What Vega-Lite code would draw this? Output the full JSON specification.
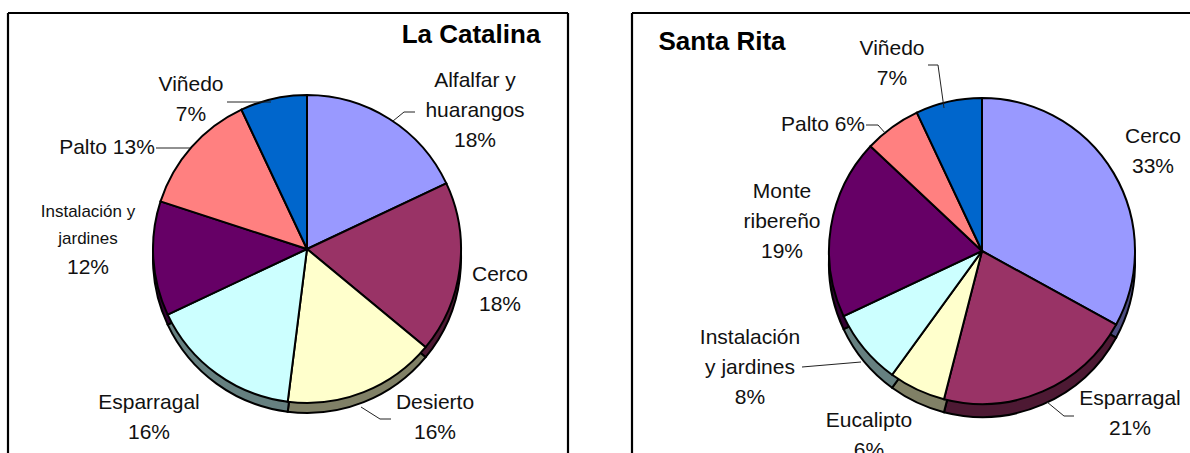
{"$schema":"https://vega.github.io/schema/vega-lite/v6.json","width":1190,"height":453,"padding":0,"autosize":{"type":"fit","contains":"padding"},"background":"white","view":{"stroke":null},
"datasets":{
"pies":[
{"panel":"La Catalina","categoria":"Alfalfar y huarangos","pct":18,"orden":1},
{"panel":"La Catalina","categoria":"Cerco","pct":18,"orden":2},
{"panel":"La Catalina","categoria":"Desierto","pct":16,"orden":3},
{"panel":"La Catalina","categoria":"Esparragal","pct":16,"orden":4},
{"panel":"La Catalina","categoria":"Instalación y jardines","pct":12,"orden":5},
{"panel":"La Catalina","categoria":"Palto","pct":13,"orden":6},
{"panel":"La Catalina","categoria":"Viñedo","pct":7,"orden":7},
{"panel":"Santa Rita","categoria":"Cerco","pct":33,"orden":1},
{"panel":"Santa Rita","categoria":"Esparragal","pct":21,"orden":2},
{"panel":"Santa Rita","categoria":"Eucalipto","pct":6,"orden":3},
{"panel":"Santa Rita","categoria":"Instalación y jardines","pct":8,"orden":4},
{"panel":"Santa Rita","categoria":"Monte ribereño","pct":19,"orden":5},
{"panel":"Santa Rita","categoria":"Palto","pct":6,"orden":6},
{"panel":"Santa Rita","categoria":"Viñedo","pct":7,"orden":7}],
"etiquetas":[
{"tipo":"n","t":"Alfalfar y\nhuarangos\n18%","x":475,"y":81},
{"tipo":"n","t":"Cerco\n18%","x":500,"y":275},
{"tipo":"n","t":"Desierto\n16%","x":435,"y":403},
{"tipo":"n","t":"Esparragal\n16%","x":149,"y":403},
{"tipo":"s","t":"Instalación y\njardines","x":88,"y":212},
{"tipo":"n","t":"12%","x":88,"y":268},
{"tipo":"n","t":"Palto 13%","x":107,"y":148},
{"tipo":"n","t":"Viñedo\n7%","x":191,"y":85},
{"tipo":"b","t":"La Catalina","x":471,"y":35},
{"tipo":"b","t":"Santa Rita","x":722,"y":42},
{"tipo":"n","t":"Viñedo\n7%","x":892,"y":49},
{"tipo":"n","t":"Palto 6%","x":823,"y":125},
{"tipo":"n","t":"Cerco\n33%","x":1153,"y":137},
{"tipo":"n","t":"Monte\nribereño\n19%","x":782,"y":192},
{"tipo":"n","t":"Instalación\ny jardines\n8%","x":750,"y":338},
{"tipo":"n","t":"Esparragal\n21%","x":1130,"y":399},
{"tipo":"n","t":"Eucalipto\n6%","x":869,"y":421}],
"marcos":[
{"x":8,"y":13,"x2":568,"y2":13},{"x":8,"y":13,"x2":8,"y2":453},{"x":568,"y":13,"x2":568,"y2":453},
{"x":632,"y":13,"x2":1190,"y2":13},{"x":632,"y":13,"x2":632,"y2":453}],
"guias":[
{"x":393,"y":121,"x2":404,"y2":112},{"x":404,"y":112,"x2":415,"y2":112},
{"x":227,"y":102,"x2":271,"y2":102},
{"x":156,"y":148,"x2":190,"y2":148},
{"x":361,"y":407,"x2":380,"y2":419},{"x":380,"y":419,"x2":391,"y2":419},
{"x":928,"y":65,"x2":938,"y2":65},{"x":938,"y":65,"x2":944,"y2":108},
{"x":866,"y":125,"x2":878,"y2":125},{"x":878,"y":125,"x2":886,"y2":134},
{"x":802,"y":367,"x2":861,"y2":362},
{"x":1047,"y":402,"x2":1064,"y2":416},{"x":1064,"y":416,"x2":1074,"y2":416}]
},
"resolve":{"scale":{"color":"independent"}},
"layer":[
{"data":{"name":"pies"},"transform":[{"filter":"datum.panel==='La Catalina'"},{"stack":"pct","sort":[{"field":"orden","order":"ascending"}],"as":["a0","a1"]}],
"mark":{"type":"arc","outerRadius":154,"stroke":"black","strokeWidth":2},
"encoding":{"x":{"datum":307,"type":"quantitative","scale":{"domain":[0,1190],"range":[0,1190]},"axis":null},"y":{"datum":259,"type":"quantitative","scale":{"domain":[0,453],"range":[0,453]},"axis":null},
"theta":{"field":"a0","type":"quantitative","scale":{"domain":[0,100],"range":[0,6.28319]}},"theta2":{"field":"a1"},
"color":{"field":"orden","type":"ordinal","legend":null,"scale":{"domain":[1,2,3,4,5,6,7],"range":["#4D4D80","#4D1933","#808066","#668080","#330033","#804040","#003366"]}}}},
{"data":{"name":"pies"},"transform":[{"filter":"datum.panel==='Santa Rita'"},{"stack":"pct","sort":[{"field":"orden","order":"ascending"}],"as":["a0","a1"]}],
"mark":{"type":"arc","outerRadius":153,"stroke":"black","strokeWidth":2},
"encoding":{"x":{"datum":982,"type":"quantitative","scale":{"domain":[0,1190],"range":[0,1190]},"axis":null},"y":{"datum":264,"type":"quantitative","scale":{"domain":[0,453],"range":[0,453]},"axis":null},
"theta":{"field":"a0","type":"quantitative","scale":{"domain":[0,100],"range":[0,6.28319]}},"theta2":{"field":"a1"},
"color":{"field":"orden","type":"ordinal","legend":null,"scale":{"domain":[1,2,3,4,5,6,7],"range":["#4D4D80","#4D1933","#808066","#668080","#330033","#804040","#003366"]}}}},
{"data":{"name":"pies"},"transform":[{"filter":"datum.panel==='La Catalina'"},{"stack":"pct","sort":[{"field":"orden","order":"ascending"}],"as":["a0","a1"]}],
"mark":{"type":"arc","outerRadius":154,"stroke":"black","strokeWidth":2},
"encoding":{"x":{"datum":307,"type":"quantitative","scale":{"domain":[0,1190],"range":[0,1190]},"axis":null},"y":{"datum":249,"type":"quantitative","scale":{"domain":[0,453],"range":[0,453]},"axis":null},
"theta":{"field":"a0","type":"quantitative","scale":{"domain":[0,100],"range":[0,6.28319]}},"theta2":{"field":"a1"},
"color":{"field":"orden","type":"ordinal","legend":null,"scale":{"domain":[1,2,3,4,5,6,7],"range":["#9999FF","#993366","#FFFFCC","#CCFFFF","#660066","#FF8080","#0066CC"]}}}},
{"data":{"name":"pies"},"transform":[{"filter":"datum.panel==='Santa Rita'"},{"stack":"pct","sort":[{"field":"orden","order":"ascending"}],"as":["a0","a1"]}],
"mark":{"type":"arc","outerRadius":153,"stroke":"black","strokeWidth":2},
"encoding":{"x":{"datum":982,"type":"quantitative","scale":{"domain":[0,1190],"range":[0,1190]},"axis":null},"y":{"datum":251,"type":"quantitative","scale":{"domain":[0,453],"range":[0,453]},"axis":null},
"theta":{"field":"a0","type":"quantitative","scale":{"domain":[0,100],"range":[0,6.28319]}},"theta2":{"field":"a1"},
"color":{"field":"orden","type":"ordinal","legend":null,"scale":{"domain":[1,2,3,4,5,6,7],"range":["#9999FF","#993366","#FFFFCC","#CCFFFF","#660066","#FF8080","#0066CC"]}}}},
{"data":{"name":"marcos"},"mark":{"type":"rule","color":"black","strokeWidth":2.2},
"encoding":{"x":{"field":"x","type":"quantitative","axis":null,"scale":{"domain":[0,1190],"range":[0,1190]}},"y":{"field":"y","type":"quantitative","axis":null,"scale":{"domain":[0,453],"range":[0,453]}},"x2":{"field":"x2"},"y2":{"field":"y2"}}},
{"data":{"name":"guias"},"mark":{"type":"rule","color":"#222222","strokeWidth":1},
"encoding":{"x":{"field":"x","type":"quantitative","axis":null,"scale":{"domain":[0,1190],"range":[0,1190]}},"y":{"field":"y","type":"quantitative","axis":null,"scale":{"domain":[0,453],"range":[0,453]}},"x2":{"field":"x2"},"y2":{"field":"y2"}}},
{"data":{"name":"etiquetas"},"transform":[{"filter":"datum.tipo==='n'"}],"mark":{"type":"text","font":"Liberation Sans","fontSize":21,"lineBreak":"\n","lineHeight":30,"align":"center","baseline":"middle","color":"#111111"},
"encoding":{"x":{"field":"x","type":"quantitative","axis":null,"scale":{"domain":[0,1190],"range":[0,1190]}},"y":{"field":"y","type":"quantitative","axis":null,"scale":{"domain":[0,453],"range":[0,453]}},"text":{"field":"t"}}},
{"data":{"name":"etiquetas"},"transform":[{"filter":"datum.tipo==='s'"}],"mark":{"type":"text","font":"Liberation Sans","fontSize":17,"lineBreak":"\n","lineHeight":27,"align":"center","baseline":"middle","color":"#111111"},
"encoding":{"x":{"field":"x","type":"quantitative","axis":null,"scale":{"domain":[0,1190],"range":[0,1190]}},"y":{"field":"y","type":"quantitative","axis":null,"scale":{"domain":[0,453],"range":[0,453]}},"text":{"field":"t"}}},
{"data":{"name":"etiquetas"},"transform":[{"filter":"datum.tipo==='b'"}],"mark":{"type":"text","font":"Liberation Sans","fontWeight":"bold","fontSize":26,"align":"center","baseline":"middle","color":"black"},
"encoding":{"x":{"field":"x","type":"quantitative","axis":null,"scale":{"domain":[0,1190],"range":[0,1190]}},"y":{"field":"y","type":"quantitative","axis":null,"scale":{"domain":[0,453],"range":[0,453]}},"text":{"field":"t"}}}
]}
